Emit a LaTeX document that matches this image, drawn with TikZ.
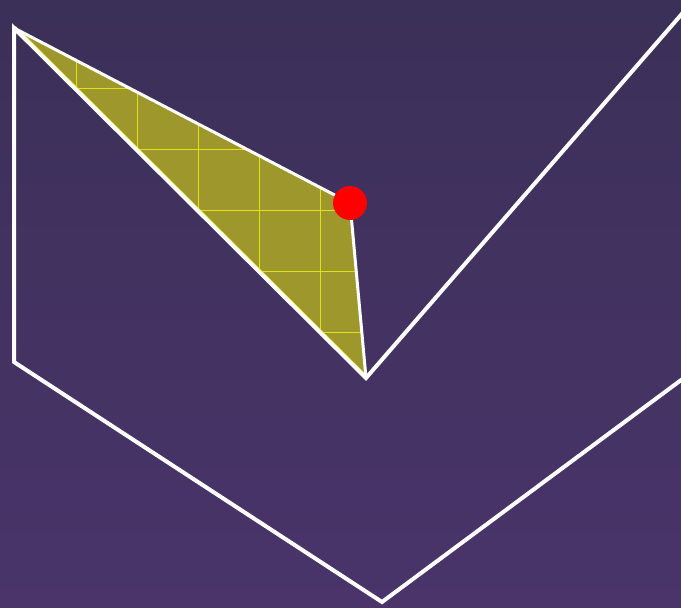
\documentclass[tikz,border=0pt]{standalone}
\usetikzlibrary{calc}
\definecolor{bgtop}{RGB}{59,48,88}
\definecolor{bgbottom}{RGB}{74,52,106}
\definecolor{wedgefill}{RGB}{158,152,44}
\definecolor{gridyellow}{RGB}{225,225,25}

\begin{document}
\begin{tikzpicture}[x=1pt,y=-1pt,line cap=butt,line join=miter]
\useasboundingbox (0,0) rectangle (681,608);
\clip (0,0) rectangle (681,608);
\shade[top color=bgtop,bottom color=bgbottom] (0,0) rectangle (681,608);
% corners of the outline
\coordinate (A) at (14,28);
\coordinate (E) at (14,362);
\coordinate (C) at (382,602);
\coordinate (D) at (366,378);
\coordinate (Rend) at (700,366);
\coordinate (Tend) at (700,-7);
\coordinate (P) at (350,203);
% shaded wedge with its grid
\fill[wedgefill] (A)--(P)--(D)--cycle;
\begin{scope}
\clip (A)--(P)--(D)--cycle;
\foreach \k in {1,...,6}{
 \draw[gridyellow,line width=0.7pt] (15+61*\k,0)--(15+61*\k,420);
 \draw[gridyellow,line width=0.7pt] (0,27+61*\k)--(420,27+61*\k);
}
\end{scope}
\draw[gridyellow,line width=1pt] ($(A)+(1.5,-1.5)$)--($(D)+(1.5,-1.5)$);
\draw[white,line width=3pt,line join=round] (A)--(P)--(D);
% big outline
\draw[white,line width=4pt] (Rend)--(C)--(E)--(A)--(D)--(Tend);
% marker
\node[circle,fill=red,minimum size=34pt,inner sep=0pt] (dot) at (P) {};
\end{tikzpicture}
\end{document}
